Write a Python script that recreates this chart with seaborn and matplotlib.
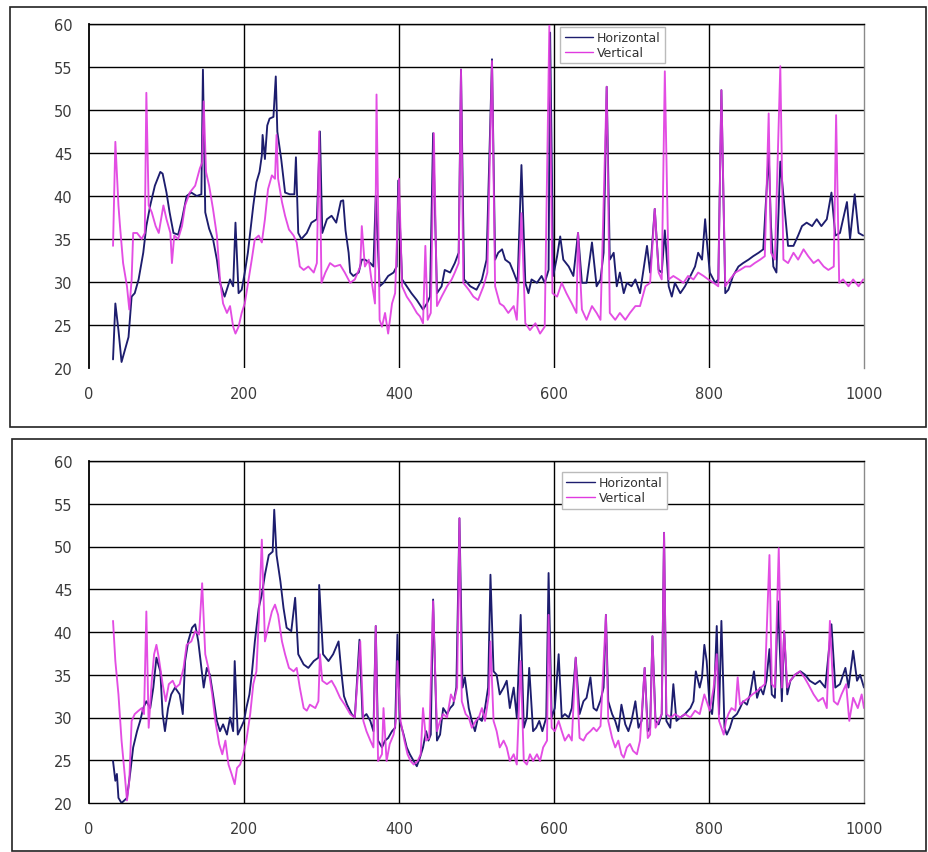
import matplotlib
matplotlib.use("Agg")
import matplotlib.pyplot as plt
from matplotlib.patches import Rectangle
import seaborn as sns
import pandas as pd

# ---------------- data: upper panel ----------------
top_h_x = [31, 34, 38, 42, 51, 55, 59, 64, 70, 74, 79, 85, 92, 95, 100, 104, 109, 115, 120, 126,
           132, 139, 145, 147, 150, 155, 160, 165, 169, 175, 182, 186, 189, 193, 197, 201, 205, 212, 216, 220,
           223, 224, 227, 230, 233, 238, 241, 243, 248, 253, 259, 265, 267, 270, 274, 281, 287, 294, 298, 301,
           307, 313, 319, 325, 328, 331, 335, 337, 341, 348, 352, 356, 363, 367, 370, 375, 380, 386, 393, 397,
           399, 404, 410, 416, 423, 431, 436, 440, 444, 449, 455, 459, 466, 472, 477, 480, 484, 492, 500, 507,
           513, 520, 524, 528, 533, 537, 543, 548, 553, 558, 563, 567, 571, 578, 584, 588, 593, 595, 599, 604,
           608, 612, 619, 625, 631, 636, 642, 649, 655, 660, 664, 668, 672, 677, 681, 685, 690, 694, 700, 705,
           711, 720, 724, 730, 735, 739, 743, 748, 752, 756, 763, 769, 776, 782, 786, 791, 795, 797, 801, 808,
           812, 816, 821, 825, 831, 838, 844, 851, 857, 864, 870, 877, 880, 883, 887, 892, 898, 902, 909, 915,
           920, 926, 933, 939, 945, 952, 958, 963, 969, 978, 982, 988, 993, 999]
top_h_y = [21.0, 27.5, 24.4, 20.7, 23.6, 28.3, 28.7, 30.3, 33.4, 36.5, 38.9, 41.2, 42.8, 42.6, 40.4, 38.1, 35.7, 35.5, 37.3, 40.0,
           40.4, 40.0, 40.2, 54.7, 38.1, 36.2, 35.0, 32.6, 29.9, 28.3, 30.3, 29.5, 36.9, 28.7, 29.1, 31.1, 33.4, 38.9, 41.6, 42.8,
           44.7, 47.1, 44.3, 48.2, 49.0, 49.2, 53.9, 47.5, 44.3, 40.4, 40.2, 40.2, 44.5, 35.7, 35.0, 35.7, 36.9, 37.3, 47.5, 35.7,
           37.3, 37.7, 36.9, 39.4, 39.5, 36.0, 33.4, 31.1, 30.7, 31.1, 32.6, 32.6, 32.2, 31.8, 40.0, 29.5, 29.9, 30.7, 31.1, 31.8,
           41.8, 30.3, 29.5, 28.7, 27.9, 26.8, 27.5, 28.3, 47.3, 28.7, 29.5, 31.4, 31.1, 32.2, 33.4, 54.7, 30.3, 29.5, 29.1, 30.3,
           32.6, 55.9, 32.6, 33.4, 33.8, 32.6, 32.2, 31.1, 29.9, 43.6, 29.9, 28.7, 30.3, 29.9, 30.7, 29.9, 31.4, 59.0, 30.7, 33.0,
           35.3, 32.6, 31.8, 30.7, 35.7, 29.9, 29.9, 34.6, 29.5, 30.3, 33.4, 52.7, 32.6, 33.4, 29.5, 31.1, 28.7, 29.9, 29.5, 30.3,
           28.7, 34.2, 31.1, 38.5, 31.4, 31.1, 36.0, 29.5, 28.3, 29.9, 28.7, 29.5, 30.7, 31.8, 33.4, 32.6, 37.3, 35.0, 31.1, 29.9,
           30.3, 52.3, 28.7, 29.1, 30.7, 31.8, 32.2, 32.6, 33.0, 33.4, 33.8, 45.0, 36.5, 31.8, 31.1, 44.0, 38.1, 34.2, 34.2, 35.4,
           36.5, 36.9, 36.5, 37.3, 36.5, 37.3, 40.4, 35.4, 35.7, 39.3, 35.0, 40.2, 35.7, 35.4]

top_v_x = [31, 34, 38, 40, 44, 49, 52, 55, 57, 62, 68, 72, 74, 77, 81, 86, 90, 96, 100, 105,
           107, 110, 115, 120, 124, 130, 137, 143, 146, 148, 151, 155, 160, 165, 169, 173, 178, 182, 186, 189,
           193, 197, 201, 206, 210, 214, 219, 223, 227, 231, 236, 240, 242, 244, 249, 253, 258, 264, 268, 272,
           277, 283, 290, 294, 297, 300, 305, 311, 317, 324, 330, 337, 343, 350, 352, 356, 361, 365, 369, 371,
           375, 378, 382, 386, 391, 395, 400, 404, 410, 416, 423, 427, 431, 434, 437, 441, 445, 449, 455, 462,
           468, 472, 477, 480, 483, 490, 496, 502, 509, 514, 520, 524, 530, 535, 541, 548, 552, 558, 563, 569,
           576, 582, 588, 594, 598, 604, 610, 616, 623, 629, 631, 636, 642, 649, 655, 660, 668, 672, 679, 685,
           692, 698, 705, 711, 718, 724, 730, 735, 739, 743, 748, 754, 761, 767, 773, 780, 786, 793, 799, 806,
           812, 816, 821, 827, 834, 840, 847, 853, 859, 866, 872, 877, 880, 885, 892, 896, 902, 909, 915, 922,
           928, 935, 941, 948, 954, 961, 964, 968, 973, 980, 986, 993, 999]
top_v_y = [34.2, 46.3, 38.9, 36.5, 32.2, 29.5, 26.8, 30.3, 35.7, 35.7, 35.0, 35.7, 52.0, 38.9, 38.1, 36.5, 35.7, 38.9, 37.3, 35.7,
           32.2, 35.4, 35.0, 36.5, 38.9, 40.4, 41.2, 43.2, 43.9, 51.0, 42.8, 41.2, 38.5, 35.4, 30.3, 27.5, 26.4, 27.2, 24.8, 24.0,
           24.8, 26.4, 27.5, 30.3, 32.6, 35.0, 35.4, 34.6, 37.3, 40.8, 42.4, 42.0, 47.1, 42.0, 39.3, 37.7, 36.1, 35.4, 34.6, 31.8,
           31.4, 31.8, 31.1, 32.2, 47.5, 29.9, 31.1, 32.2, 31.8, 32.0, 31.1, 29.9, 30.3, 31.8, 36.5, 31.8, 32.6, 29.9, 27.5, 51.8,
           25.6, 24.8, 26.4, 24.0, 27.5, 28.7, 42.0, 29.5, 28.3, 27.5, 26.4, 26.0, 25.2, 34.2, 25.6, 26.4, 47.3, 27.2, 28.3, 29.5,
           30.3, 31.1, 32.2, 54.7, 29.9, 29.1, 28.3, 27.9, 29.5, 31.1, 55.7, 29.5, 27.5, 27.2, 26.4, 27.2, 25.6, 38.0, 25.2, 24.4,
           25.2, 24.0, 24.8, 59.8, 28.7, 28.3, 29.9, 28.7, 27.5, 26.4, 35.7, 26.8, 25.6, 27.2, 26.4, 25.6, 52.7, 26.4, 25.6, 26.4,
           25.6, 26.4, 27.2, 27.2, 29.5, 29.9, 38.5, 31.1, 30.3, 54.5, 30.3, 30.7, 30.3, 29.9, 30.7, 30.3, 31.1, 30.7, 30.3, 29.9,
           29.5, 52.3, 29.5, 30.3, 31.1, 31.4, 31.8, 31.8, 32.2, 32.6, 33.0, 49.6, 33.4, 32.6, 55.1, 32.6, 32.2, 33.4, 32.6, 33.8,
           33.0, 32.2, 32.6, 31.8, 31.4, 31.8, 49.4, 29.9, 30.3, 29.5, 30.3, 29.5, 30.3]

# ---------------- data: lower panel ----------------
bot_h_x = [31, 34, 36, 38, 42, 49, 53, 57, 62, 66, 70, 74, 79, 83, 87, 92, 95, 98, 102, 106,
           111, 117, 121, 124, 128, 133, 137, 141, 145, 148, 152, 156, 160, 165, 169, 173, 178, 182, 186, 188,
           192, 196, 200, 203, 207, 210, 214, 219, 223, 227, 232, 237, 239, 242, 247, 251, 255, 261, 266, 270,
           277, 283, 290, 296, 297, 302, 309, 315, 322, 326, 329, 333, 339, 343, 349, 353, 358, 363, 367, 370,
           373, 378, 382, 386, 391, 395, 398, 401, 406, 410, 414, 419, 423, 427, 431, 435, 438, 441, 444, 449,
           453, 457, 462, 466, 470, 474, 478, 482, 485, 490, 494, 498, 502, 507, 511, 515, 518, 522, 526, 530,
           535, 539, 543, 548, 552, 557, 561, 565, 568, 573, 577, 581, 585, 590, 593, 597, 601, 606, 610, 614,
           619, 623, 628, 633, 638, 642, 647, 651, 655, 660, 664, 667, 670, 675, 679, 683, 687, 692, 696, 700,
           705, 709, 713, 717, 721, 724, 727, 731, 735, 739, 742, 745, 750, 754, 758, 763, 769, 776, 780, 783,
           788, 791, 794, 797, 801, 804, 807, 810, 813, 816, 820, 823, 827, 831, 836, 840, 844, 849, 853, 858,
           862, 866, 870, 874, 878, 881, 885, 889, 894, 897, 901, 905, 911, 918, 924, 930, 937, 943, 950, 958,
           963, 969, 976, 980, 986, 991, 995, 1000]
bot_h_y = [24.9, 22.6, 23.4, 20.6, 20.0, 20.6, 23.4, 26.5, 28.4, 29.6, 31.1, 31.9, 31.1, 33.5, 37.0, 35.4, 30.4, 28.4, 31.1, 32.7,
           33.5, 32.7, 30.4, 36.6, 38.9, 40.5, 40.9, 38.9, 35.8, 33.5, 35.8, 35.0, 32.7, 29.6, 28.4, 29.2, 28.0, 30.0, 28.4, 36.6,
           28.0, 28.8, 29.6, 31.1, 32.7, 35.0, 38.9, 42.8, 44.4, 46.7, 49.0, 49.4, 54.3, 49.0, 45.9, 42.8, 40.5, 40.1, 44.0, 37.4,
           36.2, 35.8, 36.6, 37.0, 45.5, 37.4, 36.6, 37.4, 38.9, 35.0, 32.5, 31.5, 30.4, 30.0, 39.1, 30.0, 30.4, 29.6, 28.4, 40.7,
           27.3, 26.5, 27.3, 27.6, 28.4, 28.8, 39.7, 29.6, 28.0, 26.5, 25.7, 24.9, 24.3, 25.3, 26.5, 28.4, 27.3, 28.0, 43.8, 27.3,
           28.0, 31.1, 30.4, 31.1, 31.5, 33.5, 53.3, 33.5, 34.7, 31.1, 29.6, 28.4, 30.0, 29.6, 31.1, 33.5, 46.7, 35.4, 35.0, 32.7,
           33.5, 34.3, 31.1, 33.5, 30.0, 42.0, 28.8, 30.0, 35.8, 28.4, 28.8, 29.6, 28.4, 30.0, 46.9, 30.0, 31.1, 37.4, 30.0, 30.4,
           30.0, 31.1, 37.0, 30.4, 31.9, 32.3, 34.7, 31.1, 30.8, 32.0, 33.5, 42.0, 31.9, 30.4, 29.6, 28.4, 31.5, 29.2, 28.4, 29.6,
           31.9, 28.8, 29.6, 35.8, 28.4, 28.8, 39.5, 29.6, 29.2, 30.4, 51.6, 29.6, 28.8, 33.9, 29.6, 30.0, 30.4, 31.1, 31.9, 35.4,
           33.5, 34.7, 38.5, 36.6, 31.1, 30.4, 33.5, 40.7, 30.4, 41.3, 28.8, 28.0, 28.8, 30.0, 30.4, 31.1, 31.9, 31.5, 32.7, 35.4,
           32.3, 33.5, 32.7, 34.3, 38.0, 32.7, 32.3, 43.6, 31.9, 40.1, 32.7, 34.3, 35.0, 35.4, 35.0, 34.3, 33.9, 34.3, 33.5, 40.9,
           33.5, 33.9, 35.8, 33.5, 37.8, 34.3, 35.0, 33.5]

bot_v_x = [31, 34, 38, 42, 46, 49, 52, 55, 59, 64, 68, 71, 74, 77, 81, 84, 87, 90, 95, 99,
           103, 108, 112, 117, 122, 126, 132, 137, 142, 146, 150, 154, 159, 163, 168, 172, 176, 180, 184, 188,
           191, 195, 199, 203, 208, 212, 216, 219, 223, 227, 231, 236, 240, 244, 249, 253, 258, 264, 268, 272,
           277, 281, 285, 292, 296, 298, 301, 307, 313, 318, 324, 330, 337, 343, 350, 354, 358, 363, 367, 370,
           373, 378, 380, 384, 388, 393, 396, 398, 402, 407, 411, 415, 419, 424, 428, 431, 435, 439, 444, 449,
           453, 457, 462, 467, 471, 475, 478, 481, 486, 490, 494, 499, 503, 507, 511, 516, 518, 522, 526, 530,
           535, 539, 543, 548, 552, 557, 561, 565, 569, 573, 578, 582, 586, 591, 593, 597, 601, 606, 610, 614,
           619, 623, 628, 633, 638, 642, 647, 651, 655, 660, 667, 670, 675, 679, 683, 687, 690, 694, 698, 702,
           707, 711, 717, 721, 724, 727, 731, 735, 739, 742, 745, 751, 756, 763, 769, 776, 782, 788, 794, 797,
           801, 806, 810, 813, 816, 819, 822, 825, 829, 834, 837, 840, 845, 851, 856, 862, 867, 872, 878, 881,
           885, 890, 894, 897, 901, 905, 911, 917, 923, 928, 935, 941, 947, 952, 956, 961, 966, 971, 977, 981,
           986, 992, 997, 1000]
bot_v_y = [41.3, 36.6, 32.7, 27.3, 23.4, 20.3, 22.6, 29.6, 30.4, 30.8, 31.1, 30.4, 42.4, 28.8, 34.3, 37.4, 38.5, 37.0, 33.9, 31.9,
           33.9, 34.3, 33.5, 33.9, 35.8, 38.5, 38.9, 40.1, 39.7, 45.7, 37.4, 35.8, 32.7, 29.6, 26.9, 25.7, 27.3, 24.5, 23.4, 22.2,
           24.1, 24.5, 25.7, 27.3, 30.4, 33.9, 35.4, 41.3, 50.8, 38.9, 40.5, 42.4, 43.2, 42.0, 38.9, 37.4, 35.8, 35.4, 35.8, 33.5,
           31.1, 30.8, 31.5, 31.1, 31.9, 37.4, 34.3, 33.9, 34.3, 33.5, 32.3, 31.5, 30.4, 30.0, 38.9, 29.6, 28.4, 27.3, 26.5, 40.7,
           24.9, 25.7, 31.1, 24.9, 26.9, 28.0, 29.6, 36.6, 29.6, 27.3, 25.7, 24.9, 24.5, 24.9, 25.7, 31.1, 27.3, 27.6, 43.6, 28.4,
           29.6, 30.4, 30.0, 32.7, 31.9, 33.5, 53.3, 31.9, 30.4, 30.0, 28.8, 29.6, 30.0, 31.1, 29.6, 32.7, 38.9, 29.6, 28.4, 26.5,
           27.3, 26.5, 24.9, 25.7, 24.5, 36.6, 24.9, 24.5, 25.7, 24.9, 25.7, 24.9, 26.5, 27.3, 42.0, 28.8, 28.4, 29.6, 28.4, 27.3,
           28.0, 27.3, 37.0, 27.6, 27.3, 28.0, 28.4, 28.8, 28.4, 29.0, 42.0, 29.6, 27.6, 26.5, 27.3, 25.7, 25.3, 26.5, 26.9, 26.1,
           25.7, 27.3, 35.8, 27.6, 28.0, 39.5, 28.8, 29.6, 30.4, 51.6, 30.4, 30.0, 30.4, 30.0, 30.4, 30.0, 30.8, 30.4, 32.7, 31.9,
           30.8, 33.5, 37.4, 29.6, 28.8, 28.0, 29.6, 30.4, 31.1, 30.8, 34.7, 31.5, 31.9, 32.3, 32.7, 33.1, 33.5, 33.9, 49.0, 33.9,
           33.5, 49.8, 33.5, 40.1, 33.5, 34.3, 35.0, 35.4, 34.7, 33.9, 32.7, 31.9, 32.3, 31.1, 41.3, 31.9, 31.5, 32.7, 33.9, 29.6,
           32.3, 31.1, 32.7, 31.1]

series_names = ["Horizontal", "Vertical"]
y_ticks = [20, 25, 30, 35, 40, 45, 50, 55, 60]
x_ticks = [0, 200, 400, 600, 800, 1000]

H_COLOR = "#1d1d6e"
V_COLOR = "#e03ae0"

sns.set_style("white")
plt.rcParams["font.family"] = ["DejaVu Sans"]

W, H = 929, 853
fig = plt.figure(figsize=(W / 100, H / 100), dpi=100)
fig.patch.set_facecolor("white")


def fx(px):
    return px / W


def fy(py):
    return 1 - py / H


# outer frames around each panel
for (x0, y0, x1, y1) in [(10, 8, 926, 428), (12, 440, 926, 852)]:
    fig.add_artist(Rectangle((fx(x0), fy(y1)), fx(x1) - fx(x0), fy(y0) - fy(y1),
                             transform=fig.transFigure, fill=False,
                             edgecolor="#222222", linewidth=1.2))

panels = [
    dict(rect=(89, 25, 864, 369), hx=top_h_x, hy=top_h_y, vx=top_v_x, vy=top_v_y,
         bottom_line=False, leg=(0.608, 0.992)),
    dict(rect=(89, 462, 864, 804), hx=bot_h_x, hy=bot_h_y, vx=bot_v_x, vy=bot_v_y,
         bottom_line=True, leg=(0.610, 0.968)),
]

for p in panels:
    x0, y0, x1, y1 = p["rect"]
    ax = fig.add_axes([fx(x0), fy(y1), fx(x1) - fx(x0), fy(y0) - fy(y1)])
    ax.set_xlim(0, 1000)
    ax.set_ylim(20, 60)

    # grid lines drawn beneath the traces
    for yv in y_ticks[1:]:
        ax.axhline(yv, color="black", linewidth=1.0, zorder=0)
    for xv in x_ticks[1:-1]:
        ax.axvline(xv, color="black", linewidth=1.0, zorder=0)

    dh = pd.DataFrame({"x": p["hx"], "y": p["hy"]})
    dv = pd.DataFrame({"x": p["vx"], "y": p["vy"]})
    sns.lineplot(data=dh, x="x", y="y", ax=ax, color=H_COLOR, linewidth=1.35,
                 estimator=None, sort=False, label=series_names[0], zorder=2)
    sns.lineplot(data=dv, x="x", y="y", ax=ax, color=V_COLOR, linewidth=1.35, alpha=0.9,
                 estimator=None, sort=False, label=series_names[1], zorder=3)

    ax.set_xticks(x_ticks)
    ax.set_yticks(y_ticks)
    ax.set_xlabel("")
    ax.set_ylabel("")
    ax.tick_params(axis="both", length=0, labelsize=10.5, colors="#3a3a3a")
    ax.tick_params(axis="y", pad=12)
    ax.tick_params(axis="x", pad=13)

    ax.spines["left"].set_color("black")
    ax.spines["left"].set_linewidth(1.3)
    ax.spines["top"].set_color("black")
    ax.spines["top"].set_linewidth(1.0)
    ax.spines["right"].set_color("#8a8a8a")
    ax.spines["right"].set_linewidth(1.0)
    if p["bottom_line"]:
        ax.spines["bottom"].set_color("black")
        ax.spines["bottom"].set_linewidth(1.0)
    else:
        ax.spines["bottom"].set_visible(False)

    leg = ax.legend(loc="upper left", bbox_to_anchor=p["leg"], fontsize=9,
                    frameon=True, fancybox=False, framealpha=1.0, edgecolor="#bbbbbb",
                    handlelength=2.3, handletextpad=0.3, labelspacing=0.15,
                    borderpad=0.35, borderaxespad=0)
    for t in leg.get_texts():
        t.set_color("#333333")
    for ln in leg.get_lines():
        ln.set_linewidth(1.0)
        ln.set_alpha(1.0)
    leg.set_zorder(5)

fig.savefig("out.png", dpi=100, facecolor="white")
